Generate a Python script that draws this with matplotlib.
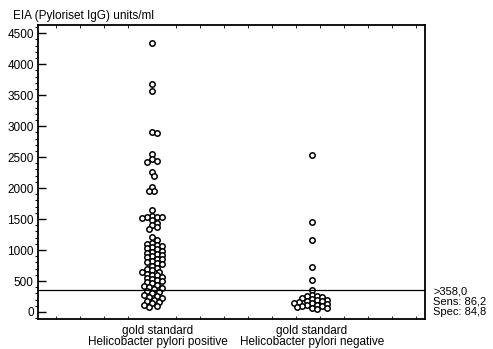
import numpy as np
import matplotlib.pyplot as plt
from matplotlib.ticker import MultipleLocator

# Werte (EIA units/ml)
pos_values = [4340, 3680, 3560, 2900, 2890, 2550, 2470, 2440, 2420, 2260, 2200,
              2020, 1960, 1950, 1640, 1550, 1540, 1540, 1530, 1520, 1480, 1440,
              1400, 1370, 1340, 1210,
              1160, 1120, 1100, 1080, 1060, 1050, 1030, 1010, 990, 970, 950, 940,
              920, 900, 880, 860, 850, 830, 810, 790, 770,
              740, 710, 690,
              670, 650, 640, 620, 600, 590, 570, 550, 530, 510, 500, 480, 460,
              440, 420, 400, 390, 370,
              340, 320, 300, 280, 260, 240, 220, 200, 180, 160, 140, 120, 100, 80]
neg_values = [2530, 1450, 1160, 730, 520, 360,
              280, 260, 250, 240, 220, 210, 200, 190, 180, 170, 160, 150, 140,
              130, 120, 110, 100, 90, 80, 70, 60, 50]
groups = ["gold standard\nHelicobacter pylori positive",
          "gold standard\nHelicobacter pylori negative"]
cutoff = 358.0
stats = [">358,0", "Sens: 86,2", "Spec: 84,8"]

plt.rcParams['font.family'] = ['Liberation Sans', 'DejaVu Sans']

fig = plt.figure(figsize=(4.93, 3.49), dpi=100)
ax = fig.add_axes([0.077, 0.086, 0.785, 0.842])
ax.set_xlim(-0.7125, 1.706)
ax.set_ylim(-113, 4630)


def swarm(ax, x0, vals, d=5.0):
    # einfache Bienenschwarm-Anordnung in Pixeln
    tr = ax.transData
    xp0 = tr.transform((x0, 0))[0]
    ys = [tr.transform((x0, v))[1] for v in vals]
    placed = []
    out = []
    for y in ys:
        k = 0
        while True:
            cands = [0] if k == 0 else [k * d * 0.5, -k * d * 0.5]
            ok = None
            for c in cands:
                if all((c - px) ** 2 + (y - py) ** 2 >= (d * 0.85) ** 2 for px, py in placed):
                    ok = c
                    break
            if ok is not None:
                placed.append((ok, y))
                out.append(tr.inverted().transform((xp0 + ok, y))[0])
                break
            k += 1
    return out


for i, vals in enumerate([pos_values, neg_values]):
    xs = swarm(ax, i, vals)
    ax.plot(xs, vals, 'o', ms=3.9, mfc='white', mec='black', mew=1.1, ls='none')

ax.axhline(cutoff, color='black', lw=0.9)

for s in ax.spines.values():
    s.set_linewidth(1.3)

ax.set_xticks([0, 1])
ax.set_xticklabels([])
ax.tick_params(axis='x', length=0)
for i, g in enumerate(groups):
    ax.text(i + (0.035 if i == 0 else 0), -0.02, g, transform=ax.get_xaxis_transform(),
            ha='center', va='top', fontsize=8.5, linespacing=0.95)
ax.xaxis.set_minor_locator(MultipleLocator(0.15))
ax.tick_params(axis='x', which='minor', direction='in', length=2, top=True, bottom=True)

ax.yaxis.set_major_locator(MultipleLocator(500))
ax.yaxis.set_minor_locator(MultipleLocator(100))
ax.tick_params(axis='y', which='major', direction='in', length=6, width=1, labelsize=8.5, pad=3)
ax.tick_params(axis='y', which='minor', direction='out', length=2.5, width=0.8)

fig.text(0.026, 0.953, "EIA (Pyloriset IgG) units/ml", fontsize=8.5, va='center', ha='left')

for j, s in enumerate(stats):
    fig.text(433 / 493, 1 - (291 + 10.5 * j) / 349, s, fontsize=8, va='center', ha='left')

plt.savefig("out.png", dpi=100)
